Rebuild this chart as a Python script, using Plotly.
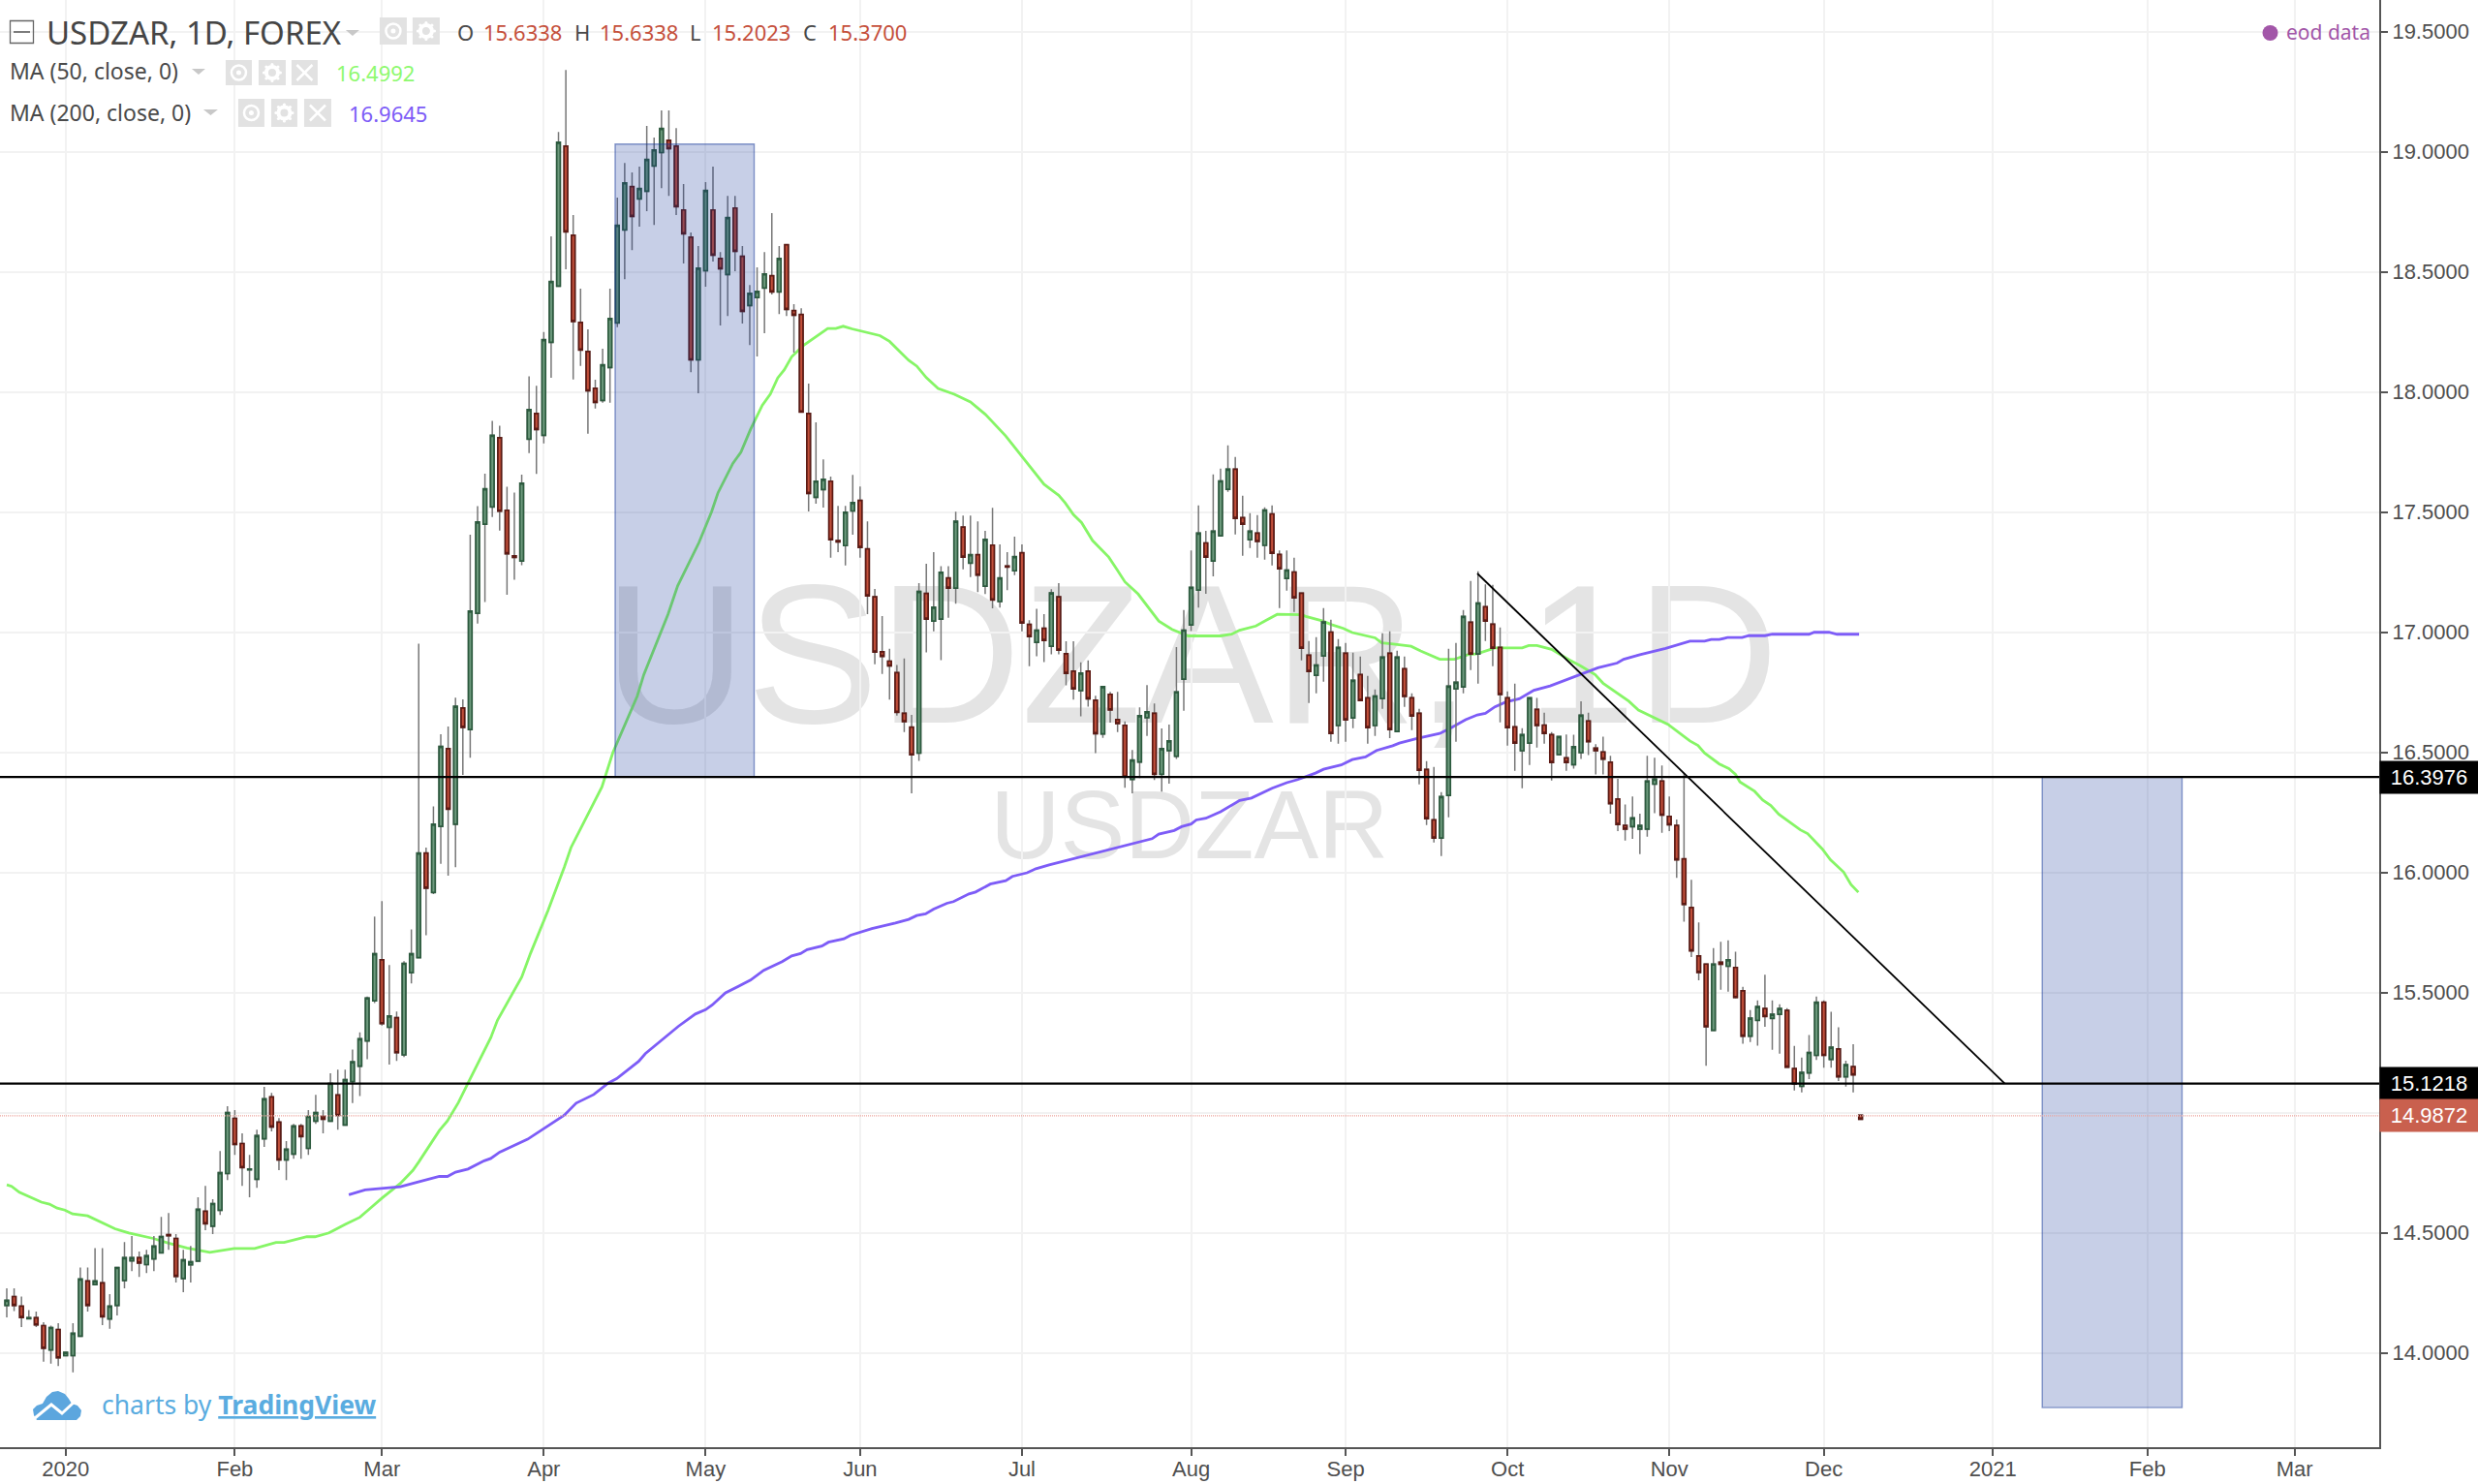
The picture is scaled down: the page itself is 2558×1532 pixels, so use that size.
import plotly.graph_objects as go

W, H = 2558, 1532
PW, PH = 2456.5, 1494.0

open_ = [14.198,14.235,14.195,14.143,14.147,14.114,14.013,14.098,13.989,13.989,
14.07,14.3,14.285,14.292,14.142,14.198,14.302,14.384,14.397,14.368,
14.392,14.417,14.493,14.477,14.31,14.367,14.383,14.59,14.528,14.594,
14.747,14.977,14.872,14.763,14.723,14.892,15.066,14.961,14.804,14.828,
14.945,14.852,14.965,14.985,14.965,15.074,14.949,15.13,15.194,15.299,
15.466,15.637,15.356,15.396,15.241,15.583,15.646,16.081,15.917,16.192,
16.516,16.201,16.685,16.595,17.079,17.45,17.522,17.81,17.508,17.318,
17.297,17.804,17.911,17.82,18.207,18.441,19.024,18.653,18.29,18.169,
18.016,17.965,18.102,18.288,18.675,18.855,18.804,18.836,18.941,18.997,
19.048,19.024,18.758,18.645,18.134,18.505,18.758,18.556,18.489,18.766,
18.565,18.36,18.394,18.433,18.484,18.417,18.613,18.339,18.323,17.911,
17.562,17.594,17.629,17.382,17.361,17.505,17.549,17.347,17.148,16.919,
16.88,16.832,16.663,16.605,16.497,17.162,17.047,17.055,17.226,17.184,
17.438,17.288,17.323,17.192,17.363,17.128,17.276,17.256,17.331,17.033,
16.958,17.017,16.942,17.148,16.911,16.838,16.757,16.838,16.717,16.577,
16.742,16.637,16.613,16.388,16.46,16.645,16.663,16.409,16.508,16.484,
16.805,17.031,17.176,17.372,17.297,17.402,17.595,17.679,17.477,17.386,
17.413,17.362,17.493,17.324,17.224,17.251,17.163,16.905,16.821,16.902,
17.001,16.612,16.913,16.644,16.824,16.727,16.612,16.724,16.913,16.587,
16.848,16.727,16.663,16.429,16.219,16.144,16.321,16.765,16.773,17.042,
16.91,17.106,17.034,16.937,16.727,16.606,16.507,16.539,16.679,16.614,
16.574,16.491,16.477,16.449,16.499,16.631,16.518,16.502,16.459,16.306,
16.196,16.191,16.181,16.181,16.368,16.381,16.234,16.196,16.057,15.854,
15.653,15.619,15.343,15.627,15.61,15.605,15.508,15.319,15.385,15.434,
15.393,15.41,15.426,15.184,15.11,15.166,15.239,15.46,15.222,15.266,
15.15,15.192,14.99]
close = [14.219,14.198,14.148,14.147,14.117,14.02,14.106,13.98,14.003,14.082,
14.308,14.198,14.3,14.151,14.195,14.356,14.397,14.397,14.375,14.405,
14.445,14.485,14.488,14.319,14.388,14.38,14.598,14.538,14.622,14.751,
15.001,14.868,14.772,14.766,14.905,15.058,14.941,14.804,14.848,14.945,
14.901,14.985,15.001,14.973,15.122,14.989,15.138,15.212,15.308,15.478,
15.662,15.371,15.403,15.25,15.622,15.662,16.081,15.935,16.201,16.525,
16.264,16.692,16.604,17.088,17.459,17.597,17.82,17.504,17.327,17.312,
17.621,17.927,17.844,18.218,18.46,19.04,18.667,18.294,18.175,18.005,
17.957,18.113,18.306,18.694,18.871,18.731,18.847,18.968,19.008,19.097,
19.013,18.772,18.659,18.134,18.516,18.839,18.57,18.513,18.726,18.586,
18.336,18.411,18.419,18.492,18.417,18.556,18.344,18.32,17.917,17.578,
17.629,17.637,17.385,17.376,17.5,17.54,17.353,17.152,16.918,16.9,
16.86,16.667,16.628,16.49,17.17,17.055,17.104,17.25,17.184,17.462,
17.313,17.323,17.238,17.387,17.135,17.226,17.272,17.315,17.039,16.982,
17.009,16.966,17.164,16.926,16.829,16.765,16.83,16.723,16.578,16.774,
16.677,16.62,16.398,16.468,16.653,16.669,16.409,16.516,16.548,16.752,
17.009,17.187,17.413,17.313,17.421,17.63,17.679,17.474,17.45,17.421,
17.378,17.509,17.329,17.265,17.259,17.144,16.934,16.837,16.864,17.043,
16.579,16.937,16.636,16.8,16.716,16.603,16.735,16.897,16.595,16.897,
16.733,16.652,16.426,16.224,16.144,16.316,16.776,16.792,17.066,16.91,
17.122,17.047,16.934,16.741,16.603,16.539,16.574,16.727,16.612,16.579,
16.458,16.566,16.458,16.524,16.655,16.545,16.507,16.472,16.287,16.2,
16.181,16.227,16.196,16.381,16.389,16.239,16.199,16.053,15.867,15.674,
15.584,15.358,15.619,15.618,15.637,15.48,15.319,15.394,15.442,15.401,
15.41,15.434,15.19,15.12,15.168,15.251,15.46,15.239,15.273,15.15,
15.2,15.158,14.973]
high = [14.269,14.269,14.235,14.179,14.172,14.128,14.114,14.124,14.003,14.124,
14.356,14.356,14.437,14.437,14.245,14.356,14.462,14.487,14.422,14.43,
14.487,14.567,14.583,14.495,14.43,14.446,14.648,14.696,14.64,14.841,
15.027,15.011,14.914,14.825,14.93,15.108,15.083,14.978,14.882,14.954,
14.954,15.011,15.075,15.011,15.164,15.18,15.18,15.263,15.335,15.484,
15.817,15.881,15.615,15.421,15.631,15.763,16.953,16.104,16.275,16.576,
16.608,16.728,16.721,17.406,17.525,17.66,17.88,17.86,17.606,17.582,
17.656,18.066,18.026,18.25,18.648,19.083,19.341,18.737,18.43,18.261,
18.051,18.18,18.43,18.809,18.954,18.914,18.938,19.108,19.059,19.172,
19.172,19.099,18.866,18.664,18.608,18.874,18.938,18.583,18.817,18.817,
18.608,18.446,18.519,18.583,18.745,18.608,18.613,18.366,18.349,18.035,
17.874,17.72,17.648,17.526,17.526,17.655,17.607,17.462,17.18,17.068,
16.931,16.864,16.891,16.656,17.205,17.285,17.334,17.275,17.275,17.502,
17.486,17.486,17.462,17.422,17.518,17.366,17.334,17.398,17.366,17.05,
17.098,17.076,17.179,17.205,16.963,16.963,16.875,16.883,16.736,16.774,
16.752,16.752,16.629,16.51,16.688,16.78,16.704,16.6,16.616,16.939,
17.093,17.341,17.528,17.422,17.657,17.681,17.778,17.73,17.569,17.496,
17.488,17.52,17.528,17.341,17.341,17.31,17.163,16.964,16.98,17.101,
17.052,16.972,16.956,16.915,16.899,16.819,16.762,16.996,17.004,16.923,
16.899,16.746,16.681,16.464,16.44,16.335,16.931,16.956,17.093,17.214,
17.254,17.2,17.198,17.02,16.754,16.786,16.601,16.727,16.727,16.665,
16.585,16.566,16.575,16.574,16.713,16.665,16.534,16.566,16.486,16.39,
16.283,16.317,16.245,16.486,16.478,16.446,16.317,16.221,16.414,15.97,
15.792,15.619,15.686,15.712,15.718,15.67,15.524,15.428,15.468,15.575,
15.468,15.452,15.436,15.278,15.23,15.324,15.484,15.468,15.42,15.356,
15.217,15.285,14.99]
low = [14.148,14.175,14.108,14.141,14.108,13.964,13.956,13.946,13.989,13.919,
14.07,14.172,14.282,14.116,14.101,14.156,14.269,14.341,14.317,14.333,
14.341,14.417,14.43,14.293,14.253,14.293,14.383,14.511,14.495,14.575,
14.72,14.825,14.696,14.648,14.688,14.858,14.922,14.761,14.72,14.809,
14.809,14.825,14.954,14.914,14.962,14.93,14.949,15.04,15.07,15.223,
15.457,15.363,15.201,15.216,15.232,15.538,15.646,15.739,15.91,16.036,
15.987,16.022,16.406,16.478,17.036,17.126,17.48,17.423,17.156,17.219,
17.279,17.746,17.659,17.786,18.059,18.441,18.511,18.052,18.109,17.827,
17.931,17.956,17.956,18.27,18.47,18.591,18.688,18.753,18.696,18.849,
18.817,18.737,18.535,18.083,17.995,18.438,18.543,18.277,18.317,18.503,
18.285,18.196,18.148,18.245,18.406,18.325,18.317,18.164,17.917,17.503,
17.535,17.519,17.31,17.334,17.278,17.406,17.31,17.076,16.867,16.827,
16.72,16.653,16.585,16.33,16.465,16.916,17.004,16.884,17.061,17.119,
17.262,17.23,17.167,17.159,17.1,17.103,17.175,17.238,17.004,16.859,
16.9,16.876,16.908,16.908,16.779,16.72,16.65,16.691,16.497,16.561,
16.624,16.585,16.353,16.33,16.393,16.569,16.385,16.337,16.37,16.473,
16.673,17.005,17.103,17.16,17.233,17.402,17.585,17.407,17.319,17.351,
17.31,17.302,17.278,17.101,17.173,17.085,16.883,16.706,16.746,16.794,
16.544,16.536,16.544,16.601,16.714,16.536,16.569,16.681,16.56,16.585,
16.69,16.593,16.367,16.198,16.125,16.069,16.23,16.544,16.746,16.843,
16.786,16.964,16.859,16.625,16.528,16.423,16.351,16.448,16.52,16.536,
16.383,16.487,16.423,16.433,16.473,16.489,16.408,16.408,16.245,16.172,
16.133,16.14,16.077,16.149,16.247,16.165,16.172,15.978,15.795,15.648,
15.551,15.196,15.343,15.512,15.504,15.476,15.287,15.294,15.279,15.358,
15.262,15.246,15.188,15.093,15.085,15.14,15.22,15.188,15.188,15.132,
15.109,15.085,14.97]
bars = list(range(len(open_)))

ma50_x = [0,0.66,1.7,4.7,5.8,6.85,7.9,8.95,11,12.2,14.7,16.6,19.9,22,24.5,27.6,29.3,30.9,33.7,36.6,37.7,40.8,41.9,43.8,46,48,49.5,51,53.5,55.2,56,58.8,59.9,61.4,62.7,65.8,66.7,70,71.2,73.6,75.8,76.7,78.5,80.9,82.4,85.7,86.6,89.9,91.2,94.1,95.8,96.7,98.7,99.8,101.1,102.7,103.8,104.8,105.7,106.7,108.3,111.6,112.7,113.7,114.9,118.7,120,122.6,123.7,125,126.6,128.8,131,133,135.8,138.2,141,143,143.9,145,146.1,147.6,149.8,150.9,152,153.8,156.6,158.4,160.6,165,166.5,167.6,169.8,171.1,172.7,176,176.6,178.8,180.1,181.7,182.9,186,186.9,188.2,190.9,192.2,194.8,196.8,198.6,199.9,202.3,206,206.9,208,210,212.4,213.9,215.9,217,220.5,221.8,225.8,228.8,229.9,230.8,232.8,234.1,235,235.6,237.6,238.7,239.8,240.9,243.8,244.8,246.8,247.9,249.7,250.7,251.7]
ma50_y = [14.70,14.694,14.669,14.628,14.62,14.603,14.595,14.579,14.571,14.554,14.517,14.5,14.477,14.457,14.437,14.419,14.427,14.435,14.435,14.46,14.46,14.484,14.484,14.5,14.535,14.565,14.605,14.645,14.706,14.76,14.795,14.926,14.966,15.043,15.124,15.313,15.385,15.565,15.664,15.844,16.023,16.104,16.212,16.356,16.5,16.734,16.824,17.076,17.193,17.374,17.501,17.582,17.703,17.75,17.844,17.945,17.992,18.059,18.093,18.147,18.194,18.265,18.265,18.274,18.263,18.235,18.211,18.132,18.108,18.06,18.015,17.991,17.959,17.908,17.817,17.725,17.616,17.57,17.538,17.49,17.457,17.382,17.313,17.262,17.21,17.159,17.047,17.012,16.985,16.985,16.992,17.009,17.026,17.048,17.075,17.073,17.066,17.048,17.032,17.016,16.999,16.977,16.956,16.952,16.942,16.922,16.888,16.888,16.907,16.911,16.935,16.935,16.945,16.945,16.929,16.885,16.861,16.824,16.788,16.713,16.676,16.617,16.548,16.529,16.497,16.452,16.433,16.409,16.377,16.338,16.302,16.279,16.242,16.178,16.162,16.098,16.053,16.002,15.95,15.918]

ma200_x = [46.5,48.7,50.9,53.5,55.7,58.8,59.9,61,62.7,64.9,65.8,67,70.8,75.8,77.4,79.8,81.8,82.9,85.9,86.8,91.3,93.6,95,95.9,97.7,101.1,102.9,105.4,106.7,107.9,108.8,110.8,111.7,113.8,114.7,117.6,120.8,122.6,123.7,124.9,126,127.8,128.7,130.8,131.7,133.7,135.8,136.7,138.7,139.9,141.7,146,151.2,155.7,156.6,158.7,159.7,161,161.7,163,165,165.9,167.6,169.2,171.1,172,174,175.5,177.9,179,181.4,182.9,184.7,186.2,188.4,189.3,191.7,194.8,196.3,198.3,199.9,201,202.3,203.8,205.6,207.6,209.8,212.4,214,216.3,218.9,219.8,222,225.5,228.8,230.8,231.7,232.8,233.9,235.9,236.8,239,240,245,245.7,247.7,248.8,251.8]
ma200_y = [14.659,14.679,14.685,14.692,14.71,14.735,14.735,14.753,14.766,14.8,14.81,14.836,14.89,14.99,15.04,15.076,15.124,15.142,15.214,15.246,15.36,15.411,15.429,15.449,15.499,15.552,15.593,15.629,15.653,15.663,15.679,15.694,15.71,15.724,15.739,15.767,15.79,15.805,15.821,15.828,15.848,15.872,15.879,15.911,15.919,15.952,15.966,15.984,15.999,16.016,16.032,16.066,16.106,16.141,16.16,16.175,16.191,16.202,16.219,16.226,16.253,16.269,16.3,16.31,16.34,16.351,16.374,16.387,16.414,16.43,16.448,16.47,16.481,16.508,16.528,16.539,16.558,16.579,16.602,16.636,16.656,16.663,16.69,16.71,16.723,16.759,16.777,16.808,16.824,16.852,16.872,16.888,16.907,16.933,16.963,16.963,16.97,16.97,16.978,16.978,16.986,16.986,16.992,16.992,17,17,16.992,16.992]

x_tick_vals = [8,31,51,73,95,116,138,161,182,204,226,247,270,291,311]
x_tick_text = ["2020","Feb","Mar","Apr","May","Jun","Jul","Aug","Sep","Oct","Nov","Dec","2021","Feb","Mar"]
y_tick_vals = [14,14.5,15,15.5,16,16.5,17,17.5,18,18.5,19,19.5]
y_tick_text = ["14.0000","14.5000","15.0000","15.5000","16.0000","16.5000","17.0000","17.5000","18.0000","18.5000","19.0000","19.5000"]

support_upper = 16.3976
support_lower = 15.1218
last_price = 14.9872
trend_x = [199.9, 271.6]
trend_y = [17.245, 15.1218]
box1_x = [82.7, 101.6]
box1_y = [16.3976, 19.032]
box2_x = [276.7, 295.7]
box2_y = [13.773, 16.3976]

X_RANGE = [-0.92, 322.5]
Y_RANGE = [13.608, 19.632]

GREEN_LINE, GREEN_FILL = "#2c5a3e", "#6d9a7d"
RED_LINE, RED_FILL = "#5c1a14", "#c2503b"
WICK = "#777777"
MA50, MA200 = "#86f566", "#7d5cf7"
TXT = "#4f4f4f"
ARIAL = "Liberation Sans"
UI = "Noto Sans"

def px(x): return x / PW
def py(y): return 1 - y / PH

fig = go.Figure()
fig.add_trace(go.Scatter(x=ma50_x, y=ma50_y, mode="lines", line=dict(color=MA50, width=2.8), hoverinfo="skip", showlegend=False))
fig.add_trace(go.Scatter(x=ma200_x, y=ma200_y, mode="lines", line=dict(color=MA200, width=2.8), hoverinfo="skip", showlegend=False))
fig.add_trace(go.Candlestick(x=bars, open=open_, high=high, low=low, close=close,
    increasing=dict(line=dict(color=WICK, width=1.5), fillcolor=WICK),
    decreasing=dict(line=dict(color=WICK, width=1.5), fillcolor=WICK),
    xaxis="x2", yaxis="y2", hoverinfo="skip", showlegend=False))
fig.add_trace(go.Candlestick(x=bars, open=open_, close=close,
    high=[max(o, c) for o, c in zip(open_, close)], low=[min(o, c) for o, c in zip(open_, close)],
    increasing=dict(line=dict(color=GREEN_LINE, width=1.7), fillcolor=GREEN_FILL),
    decreasing=dict(line=dict(color=RED_LINE, width=1.7), fillcolor=RED_FILL),
    xaxis="x2", yaxis="y2", hoverinfo="skip", showlegend=False))

shapes = []
# watermarks
shapes.append(dict(type="rect", xref="paper", yref="paper", x0=px(400), x1=px(2060), y0=py(756), y1=py(556), layer="below",
    line=dict(width=0), fillcolor="rgba(0,0,0,0)",
    label=dict(text="USDZAR, 1D", font=dict(family=ARIAL, size=204, color="#e4e4e4"), textposition="middle center")))
shapes.append(dict(type="rect", xref="paper", yref="paper", x0=px(900), x1=px(1556), y0=py(887), y1=py(797), layer="below",
    line=dict(width=0), fillcolor="rgba(0,0,0,0)",
    label=dict(text="USDZAR", font=dict(family=ARIAL, size=100, color="#e4e4e4"), textposition="middle center")))
# drawings
for bx, by in ((box1_x, box1_y), (box2_x, box2_y)):
    shapes.append(dict(type="rect", xref="x", yref="y", x0=bx[0], x1=bx[1], y0=by[0], y1=by[1], layer="above",
        fillcolor="rgba(21,56,153,0.24)", line=dict(color="rgba(21,56,153,0.5)", width=1.4)))
for lvl in (support_upper, support_lower):
    shapes.append(dict(type="line", xref="x", yref="y", x0=X_RANGE[0], x1=X_RANGE[1], y0=lvl, y1=lvl, layer="above",
        line=dict(color="#000000", width=2.2)))
shapes.append(dict(type="line", xref="x", yref="y", x0=X_RANGE[0], x1=X_RANGE[1], y0=last_price, y1=last_price, layer="above",
    line=dict(color="#eda49c", width=1.2, dash="1px,1px")))
shapes.append(dict(type="line", xref="x", yref="y", x0=trend_x[0], x1=trend_x[1], y0=trend_y[0], y1=trend_y[1], layer="above",
    line=dict(color="#000000", width=1.8)))

# header widgets
def box(x0, x1, y0, y1, **kw):
    shapes.append(dict(type="rect", xref="paper", yref="paper", x0=px(x0), x1=px(x1), y0=py(y1), y1=py(y0), **kw))
def circ(cx, cy, r, **kw):
    shapes.append(dict(type="circle", xref="paper", yref="paper", x0=px(cx-r), x1=px(cx+r), y0=py(cy+r), y1=py(cy-r), **kw))
def seg(x0, y0, x1, y1, color, w):
    shapes.append(dict(type="line", xref="paper", yref="paper", x0=px(x0), x1=px(x1), y0=py(y0), y1=py(y1), line=dict(color=color, width=w)))
def tri(x0, x1, y0, y1):
    shapes.append(dict(type="path", xref="paper", yref="paper",
        path=f"M {px(x0)} {py(y0)} L {px(x1)} {py(y0)} L {px((x0+x1)/2)} {py(y1)} Z", fillcolor="#c8c8c8", line=dict(width=0)))
def eye(x0, x1, y0, y1):
    box(x0, x1, y0, y1, fillcolor="#e2e2e2", line=dict(width=0))
    cx, cy = (x0+x1)/2, (y0+y1)/2
    circ(cx, cy, 7.5, fillcolor="rgba(0,0,0,0)", line=dict(color="#ffffff", width=2.5))
    circ(cx, cy, 2.5, fillcolor="#ffffff", line=dict(width=0))
def gear(x0, x1, y0, y1):
    box(x0, x1, y0, y1, fillcolor="#e2e2e2", line=dict(width=0))
    cx, cy = (x0+x1)/2, (y0+y1)/2
    circ(cx, cy, 6, fillcolor="rgba(0,0,0,0)", line=dict(color="#ffffff", width=4))
    for dx, dy in ((0,8.5),(0,-8.5),(8.5,0),(-8.5,0),(6,6),(-6,6),(6,-6),(-6,-6)):
        circ(cx+dx, cy+dy, 1.6, fillcolor="#ffffff", line=dict(width=0))
def cross(x0, x1, y0, y1):
    box(x0, x1, y0, y1, fillcolor="#e2e2e2", line=dict(width=0))
    cx, cy = (x0+x1)/2, (y0+y1)/2
    seg(cx-8, cy-8, cx+8, cy+8, "#ffffff", 2.5)
    seg(cx-8, cy+8, cx+8, cy-8, "#ffffff", 2.5)

box(10.5, 34.5, 21.5, 44.5, fillcolor="rgba(255,255,255,0)", line=dict(color="#666666", width=1.3))
seg(14, 33, 31, 33, "#555555", 1.5)
tri(357, 371, 31, 37)
eye(392, 420, 18, 46); gear(426, 454, 18, 46)
tri(198, 212, 71, 77)
eye(233, 260, 62, 88); gear(267, 295, 62, 88); cross(301, 328, 62, 88)
tri(210, 225, 113, 119)
eye(246, 273, 102, 131); gear(280, 307, 102, 131); cross(314, 342, 102, 131)

# cloud logo
cloud = [(35,1461),(34,1455),(38,1451),(44,1449),(48,1442),(54,1437),(60,1436),(67,1439),(71,1444),(74,1449),(80,1451),(84,1456),(83,1462),(79,1466),(38,1466)]
shapes.append(dict(type="path", xref="paper", yref="paper",
    path="M " + " L ".join(f"{px(a)} {py(b)}" for a, b in cloud) + " Z", fillcolor="#5ca6de", line=dict(width=0)))
zig = [(36,1464),(53,1450),(64,1459),(77,1447)]
shapes.append(dict(type="path", xref="paper", yref="paper",
    path="M " + " L ".join(f"{px(a)} {py(b)}" for a, b in zig), line=dict(color="#ffffff", width=3)))
circ(2344, 34, 8, fillcolor="#a256a8", line=dict(width=0))

ann = []
def text(t, x, y, size, color, family=UI, anchor="left"):
    ann.append(dict(text=t, xref="paper", yref="paper", x=px(x), y=py(y), xanchor=anchor, yanchor="middle",
        showarrow=False, font=dict(family=family, size=size, color=color)))
RED_T = "#c5503c"
text("USDZAR, 1D, FOREX", 46, 33, 33, "#454545")
for t, x, c in (("O",470,"#4a4a4a"),("15.6338",497,RED_T),("H",591,"#4a4a4a"),("15.6338",617,RED_T),
                ("L",710,"#4a4a4a"),("15.2023",733,RED_T),("C",827,"#4a4a4a"),("15.3700",853,RED_T)):
    text(t, x, 33, 22, c)
text("MA (50, close, 0)", 8, 73, 23, "#4a4a4a")
text("16.4992", 345, 75, 22, "#8ef96f")
text("MA (200, close, 0)", 8, 116, 23, "#4a4a4a")
text("16.9645", 358, 117, 22, "#7d5cf7")
text("eod data", 2358, 33, 21, "#a256a8")
text("charts by <u><b>TradingView</b></u>", 103, 1450, 26.5, "#5aace0")

def tag(val, s, bg):
    ann.append(dict(text=s, xref="paper", yref="y", x=px(2456.5), y=val, xanchor="left", yanchor="middle", showarrow=False,
        width=101, height=33, align="center", valign="middle", bgcolor=bg, borderpad=0,
        font=dict(family=ARIAL, size=22, color="#ffffff")))
tag(support_upper, "16.3976", "#000000")
tag(support_lower, "15.1218", "#000000")
tag(last_price, "14.9872", "#c9604e")

fig.update_layout(
    width=W, height=H, autosize=False, paper_bgcolor="#ffffff", plot_bgcolor="#ffffff", showlegend=False,
    margin=dict(l=0, r=W-PW, t=0, b=H-PH, pad=0, autoexpand=False),
    shapes=shapes, annotations=ann, hovermode=False,
    xaxis=dict(range=X_RANGE, tickmode="array", tickvals=x_tick_vals, ticktext=x_tick_text, showgrid=True, gridcolor="#f2f2f2", gridwidth=2,
        zeroline=False, showline=True, linecolor="#555555", linewidth=2, ticks="outside", ticklen=7, tickcolor="#555555", tickwidth=1.5,
        tickfont=dict(family=ARIAL, size=22, color=TXT), ticklabelstandoff=-5, rangeslider=dict(visible=False), fixedrange=True),
    yaxis=dict(range=Y_RANGE, side="right", tickmode="array", tickvals=y_tick_vals, ticktext=y_tick_text, showgrid=True, gridcolor="#f2f2f2", gridwidth=2,
        zeroline=False, showline=True, linecolor="#555555", linewidth=2, ticks="outside", ticklen=7, tickcolor="#555555", tickwidth=1.5,
        tickfont=dict(family=ARIAL, size=22, color=TXT), fixedrange=True),
    xaxis2=dict(range=X_RANGE, overlaying="x", visible=False, rangeslider=dict(visible=False), fixedrange=True),
    yaxis2=dict(range=Y_RANGE, overlaying="y", visible=False, fixedrange=True),
)
fig.write_html("out.html", post_script="document.body.style.margin='0';", config=dict(displayModeBar=False))
